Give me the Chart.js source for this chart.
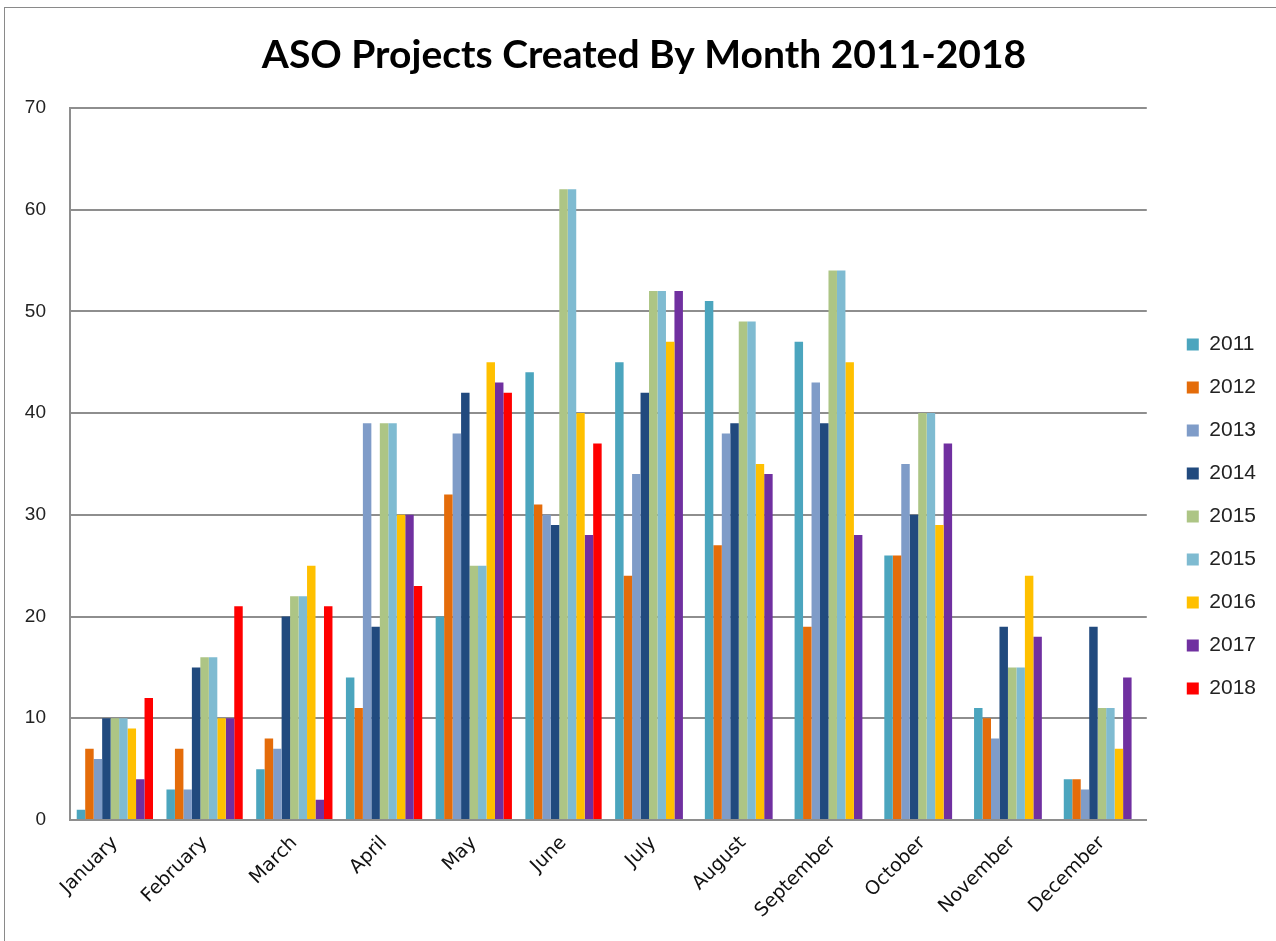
<!DOCTYPE html>
<html>
<head>
<meta charset="utf-8">
<script src="https://cdn.jsdelivr.net/npm/chart.js@4"></script>
<style>
  html, body { margin: 0; padding: 0; background: #fff; }
  #wrap { width: 1276px; height: 941px; }
</style>
</head>
<body>
<div id="wrap"><canvas id="myChart" width="1276" height="941"></canvas></div>
<script>
// Meses
const months = ['January', 'February', 'March', 'April', 'May', 'June',
  'July', 'August', 'September', 'October', 'November', 'December'];

// Series (una por año)
const y2011 = [1, 3, 5, 14, 20, 44, 45, 51, 47, 26, 11, 4];
const y2012 = [7, 7, 8, 11, 32, 31, 24, 27, 19, 26, 10, 4];
const y2013 = [6, 3, 7, 39, 38, 30, 34, 38, 43, 35, 8, 3];
const y2014 = [10, 15, 20, 19, 42, 29, 42, 39, 39, 30, 19, 19];
const y2015a = [10, 16, 22, 39, 25, 62, 52, 49, 54, 40, 15, 11];
const y2015b = [10, 16, 22, 39, 25, 62, 52, 49, 54, 40, 15, 11];
const y2016 = [9, 10, 25, 30, 45, 40, 47, 35, 45, 29, 24, 7];
const y2017 = [4, 10, 2, 30, 43, 28, 52, 34, 28, 37, 18, 14];
const y2018 = [12, 21, 21, 23, 42, 37, null, null, null, null, null, null];

const seriesNames = ['2011', '2012', '2013', '2014', '2015', '2015', '2016', '2017', '2018'];
const seriesData = [y2011, y2012, y2013, y2014, y2015a, y2015b, y2016, y2017, y2018];
const seriesColors = ['#4BA5BE', '#E46C0A', '#7F9CC8', '#214A7E', '#ADC585',
  '#7FBBD1', '#FFC000', '#7030A0', '#FF0000'];

const yTicks = [0, 10, 20, 30, 40, 50, 60, 70];

const gridGrey = '#8e8e8e';

// Fondo blanco y marco exterior
const framePlugin = {
  id: 'frame',
  beforeDraw(chart) {
    const c = chart.ctx;
    c.save();
    c.fillStyle = '#fff';
    c.fillRect(0, 0, chart.width, chart.height);
    c.strokeStyle = '#8a8a8a';
    c.lineWidth = 1;
    c.strokeRect(4.5, 7.5, chart.width + 20, chart.height + 20);
    c.restore();
  }
};

const ctx = document.getElementById('myChart').getContext('2d');

const myChart = new Chart(ctx, {
  type: 'bar',
  data: {
    labels: months,
    datasets: seriesNames.map((name, i) => ({
      label: name,
      data: seriesData[i],
      backgroundColor: seriesColors[i],
      borderWidth: 0,
      categoryPercentage: 0.85,
      barPercentage: 1.0
    }))
  },
  options: {
    responsive: false,
    animation: false,
    layout: { padding: { left: 22, right: 10, top: 0, bottom: 0 } },
    plugins: {
      title: {
        display: true,
        text: 'ASO Projects Created By Month 2011-2018',
        color: '#000',
        font: { family: 'Lato', size: 39, weight: 'bold' },
        padding: { top: 32, bottom: 29 }
      },
      legend: {
        position: 'right',
        title: {
          display: true,
          text: ' ',
          font: { size: 10 },
          padding: { top: 80, bottom: 0 }
        },
        labels: {
          boxWidth: 12,
          boxHeight: 12,
          padding: 22,
          color: '#222',
          font: { family: 'Liberation Sans', size: 21 }
        }
      },
      tooltip: { enabled: false }
    },
    scales: {
      x: {
        grid: { display: false, drawTicks: false },
        border: { display: true, color: gridGrey, width: 2 },
        ticks: {
          color: '#111',
          font: { family: 'DejaVu Sans', size: 19 },
          minRotation: 45,
          maxRotation: 45,
          padding: 12
        },
        afterFit: scale => {
          scale.paddingLeft = 0;
          scale.paddingRight = 0;
          scale.height = 121;
        }
      },
      y: {
        min: 0,
        max: 70,
        afterBuildTicks: scale => { scale.ticks = yTicks.map(v => ({ value: v })); },
        grid: { color: gridGrey, lineWidth: 2, drawTicks: false },
        border: { display: true, color: gridGrey, width: 2 },
        ticks: {
          color: '#222',
          font: { family: 'Liberation Sans', size: 19 },
          padding: 24
        },
        afterFit: scale => {
          scale.paddingTop = 0;
          scale.paddingBottom = 0;
          scale.width = 48;
        }
      },
      gap: {
        type: 'linear',
        position: 'right',
        display: true,
        grid: { display: false, drawTicks: false },
        border: { display: false },
        ticks: { display: false },
        afterFit: scale => { scale.width = 18; }
      }
    }
  },
  plugins: [framePlugin]
});
</script>
</body>
</html>
